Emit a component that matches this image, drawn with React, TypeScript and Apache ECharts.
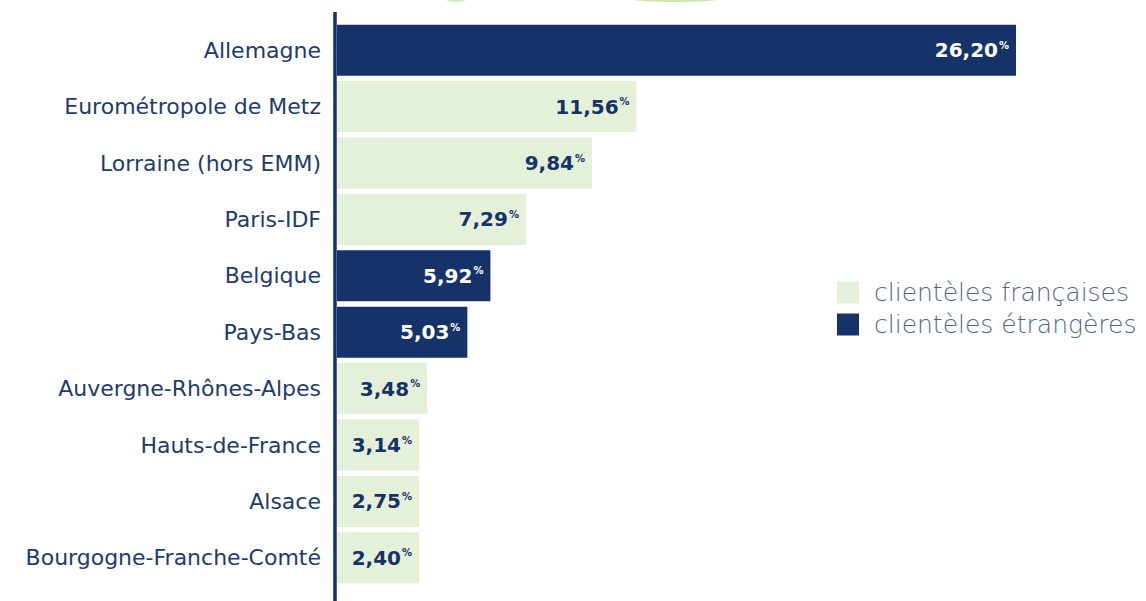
import React, { useEffect, useRef } from "react";
import * as echarts from "echarts";

const categories = [
  "Allemagne",
  "Eurométropole de Metz",
  "Lorraine (hors EMM)",
  "Paris-IDF",
  "Belgique",
  "Pays-Bas",
  "Auvergne-Rhônes-Alpes",
  "Hauts-de-France",
  "Alsace",
  "Bourgogne-Franche-Comté",
];
const francaises: (number | string)[] = ["-", 11.56, 9.84, 7.29, "-", "-", 3.48, 3.14, 2.75, 2.4];
const etrangeres: (number | string)[] = [26.2, "-", "-", "-", 5.92, 5.03, "-", "-", "-", "-"];
const legendNames = ["clientèles françaises", "clientèles étrangères"];

const NAVY = "#163369";
const LIGHT = "#e5f0d8";
const FONT = "'DejaVu Sans', sans-serif";

const fmt = (v: number) => v.toFixed(2).replace(".", ",");

export default function App() {
  const ref = useRef<HTMLDivElement>(null);
  useEffect(() => {
    if (!ref.current) return;
    const chart = echarts.init(ref.current, null, { renderer: "svg" });
    const mkLabel = (color: string) => ({
      show: true,
      position: "insideRight",
      distance: 7,
      formatter: (p: any) => `{v|${fmt(p.value)}}{p|%}`,
      rich: {
        v: { fontFamily: FONT, fontSize: 20, fontWeight: 700, color },
        p: { fontFamily: FONT, fontSize: 10, fontWeight: 700, color, verticalAlign: "top", padding: [0, 0, 10, 1] },
      },
    });
    chart.setOption({
      animation: false,
      textStyle: { fontFamily: FONT },
      grid: { left: 337, right: 130, top: 22, bottom: 15, containLabel: false },
      legend: {
        orient: "vertical",
        left: 832,
        top: 275,
        itemWidth: 22,
        itemHeight: 22,
        itemGap: 7,
        icon: "rect",
        data: legendNames,
        textStyle: { fontFamily: FONT, fontSize: 25, fontWeight: 200, color: "#4f6590", padding: [0, 0, 0, 10] },
      },
      xAxis: {
        type: "value",
        min: 0,
        max: 26.2,
        show: false,
      },
      yAxis: {
        type: "category",
        inverse: true,
        data: categories,
        axisLine: { show: false },
        axisTick: { show: false },
        axisLabel: { fontFamily: FONT, fontSize: 22, color: "#1e3a6e", margin: 16 },
      },
      graphic: [
        {
          type: "ellipse",
          shape: { cx: 675, cy: -7, rx: 68, ry: 9 },
          style: { fill: "#cde4ab" },
          silent: true,
        },
        {
          type: "ellipse",
          shape: { cx: 456, cy: -5, rx: 15, ry: 7 },
          style: { fill: "#d6e9bc" },
          silent: true,
        },
        {
          type: "line",
          shape: { x1: 335, y1: 12, x2: 335, y2: 601 },
          style: { stroke: NAVY, lineWidth: 3.5 },
          z: 100,
        },
      ],
      series: [
        {
          name: legendNames[0],
          type: "bar",
          data: francaises,
          barWidth: 51,
          barGap: "-100%",
          barMinHeight: 82,
          itemStyle: { color: LIGHT },
          label: mkLabel(NAVY),
        },
        {
          name: legendNames[1],
          type: "bar",
          data: etrangeres,
          barWidth: 51,
          barGap: "-100%",
          barMinHeight: 82,
          itemStyle: { color: NAVY },
          label: mkLabel("#ffffff"),
        },
      ],
    });
    return () => chart.dispose();
  }, []);
  return <div ref={ref} style={{ width: 1146, height: 601, position: "absolute", left: 0, top: 0 }} />;
}
